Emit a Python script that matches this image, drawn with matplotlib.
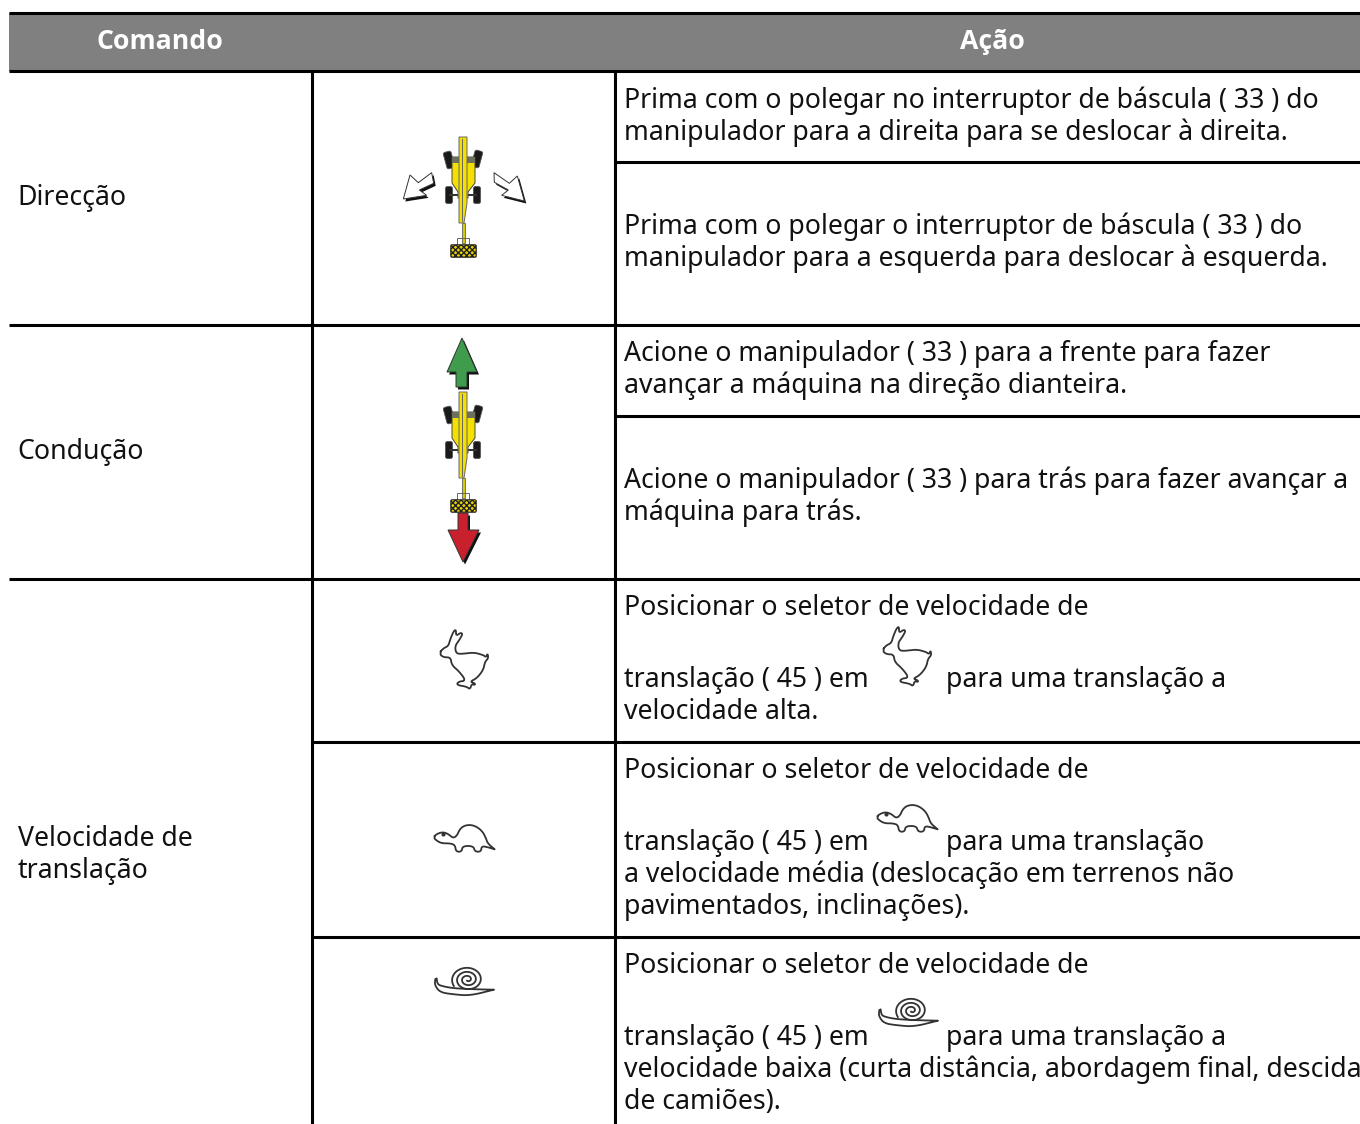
import numpy as np
import matplotlib
matplotlib.use('Agg')
import matplotlib.pyplot as plt
from matplotlib.patches import Polygon, Rectangle, FancyBboxPatch

plt.rcParams['font.family'] = ['Noto Sans', 'DejaVu Sans']

# table contents
headers = ['Comando', 'Ação']
commands = [('Direcção', 205), ('Condução', 459), ('Velocidade de', 846), ('translação', 878)]
actions = [
    ('Prima com o polegar no interruptor de báscula ( 33 ) do', 108),
    ('manipulador para a direita para se deslocar à direita.', 140),
    ('Prima com o polegar o interruptor de báscula ( 33 ) do', 234),
    ('manipulador para a esquerda para deslocar à esquerda.', 266),
    ('Acione o manipulador ( 33 ) para a frente para fazer', 361),
    ('avançar a máquina na direção dianteira.', 393),
    ('Acione o manipulador ( 33 ) para trás para fazer avançar a', 488),
    ('máquina para trás.', 520),
    ('Posicionar o seletor de velocidade de', 615),
    ('translação ( 45 ) em', 687),
    ('velocidade alta.', 719),
    ('Posicionar o seletor de velocidade de', 778),
    ('translação ( 45 ) em', 850),
    ('a velocidade média (deslocação em terrenos não', 882),
    ('pavimentados, inclinações).', 914),
    ('Posicionar o seletor de velocidade de', 973),
    ('translação ( 45 ) em', 1045),
    ('velocidade baixa (curta distância, abordagem final, descida', 1077),
    ('de camiões).', 1109),
]
after_icon = [('para uma translação a', 687), ('para uma translação', 850), ('para uma translação a', 1045)]

# rules: y, x start
h_rules = [(162, 615), (416, 615), (325, 9), (579, 9), (742, 312), (937, 312)]
v_rules = [311.7, 614.5]

# icon outlines (3x zoom pixels)
rabbit = [(57, 100), (70, 85), (85, 78), (90, 60), (100, 35), (108, 28), (108, 48), (122, 38), (128, 42),
          (118, 60), (105, 78), (108, 100), (125, 102), (160, 97), (190, 105), (198, 112), (203, 100),
          (205, 115), (195, 125), (190, 150), (170, 175), (150, 185), (165, 190), (165, 195), (155, 192),
          (150, 208), (140, 200), (110, 195), (115, 185), (138, 182), (118, 155), (95, 135), (92, 112),
          (70, 112), (57, 100)]
turtle = [(40, 82), (50, 72), (68, 66), (85, 72), (100, 85), (112, 75), (118, 60), (130, 48), (150, 44),
          (170, 50), (188, 65), (198, 85), (203, 100), (224, 118), (224, 118), (205, 112), (185, 108), (183, 125),
          (165, 125), (160, 108), (128, 108), (125, 125), (108, 125), (105, 105), (90, 100), (65, 100),
          (50, 92), (40, 82)]
snail_foot = [(46, 72), (46, 72), (44, 90), (60, 112), (100, 118), (150, 122), (222, 104), (222, 104), (170, 103),
              (100, 100), (60, 92), (52, 85), (50, 70), (50, 70)]
arrow_left = [(70, 237), (90, 165), (115, 188), (155, 158), (161, 190), (118, 210), (140, 226)]
arrow_right = [(433, 243), (412, 168), (388, 190), (342, 158), (343, 187), (385, 210), (365, 226)]
green_arrow = [(462, 338), (477, 372), (467, 372), (467, 387), (456, 387), (456, 372), (447, 372)]
red_arrow = [(458, 513), (468, 513), (468, 530), (479, 530), (463, 562), (448, 530), (458, 530)]

W, H = 1360, 1124
fig = plt.figure(figsize=(W / 100, H / 100), dpi=100)
ax = fig.add_axes([0, 0, 1, 1])
ax.set_xlim(0, W)
ax.set_ylim(H, 0)
ax.axis('off')

FS = 19.2
INK = '#333333'


def smooth(pts, n=2):
    p = np.array(pts, float)
    for _ in range(n):
        q = 0.75 * p[:-1] + 0.25 * p[1:]
        r = 0.25 * p[:-1] + 0.75 * p[1:]
        p = np.empty((len(q) * 2, 2))
        p[0::2] = q
        p[1::2] = r
    return p


def outline(pts, x, y, closed=True):
    # x, y is where the zoom origin of the icon lands
    p = smooth(pts) / 3 + (x, y)
    if closed:
        p = np.vstack([p, p[:1]])
    ax.plot(p[:, 0], p[:, 1], color=INK, lw=1.3, solid_capstyle='round', zorder=4)


def draw_rabbit(x, y):
    outline(rabbit, x, y)


def draw_turtle(x, y):
    outline(turtle, x, y)
    ax.plot(x + 68 / 3, y + 73 / 3, 'o', color=INK, ms=2, zorder=4)


def draw_snail(x, y):
    outline(snail_foot, x, y, closed=False)
    t = np.linspace(0, 2.9 * 2 * np.pi, 300)
    s = np.linspace(1, 0.1, 300)
    a = np.radians(150) + t
    ax.plot(x + 47.7 + 16 * s * np.cos(a), y + 24.5 + 13 * s * np.sin(a), color=INK, lw=1.3, zorder=4)


def tire(x, y, w, h, ang=0):
    rot = matplotlib.transforms.Affine2D().rotate_deg_around(x, y, ang) + ax.transData
    ax.add_patch(FancyBboxPatch((x - w / 2 + 2, y - h / 2 + 2), w - 4, h - 4, boxstyle='round,pad=2', fc='#1a1a1a',
                                ec='#555555', lw=0.6, zorder=3, transform=rot))


def draw_machine(cx, top):
    # cx is the boom centre, top the tip of the boom
    tire(cx - 14, top + 23, 8, 17, -15)
    tire(cx + 14, top + 22, 8, 17, 15)
    tire(cx - 14, top + 58, 7, 17)
    tire(cx + 14, top + 58, 7, 17)
    body = [(cx - 11, top + 20), (cx + 12, top + 20), (cx + 12, top + 46), (cx + 5, top + 55), (cx + 5, top + 61),
            (cx - 5, top + 61), (cx - 5, top + 55), (cx - 11, top + 46)]
    ax.add_patch(Polygon(body, fc='#f4e000', ec='#444444', lw=0.7, zorder=4))
    ax.add_patch(Rectangle((cx - 11, top + 20), 23, 6, fc='#6f6f5e', ec='none', zorder=5))
    ax.add_patch(Rectangle((cx - 14, top + 57), 28, 2, fc='#333333', ec='none', zorder=3))
    ax.add_patch(Polygon([(cx - 4, top), (cx + 4, top), (cx + 4, top + 66), (cx + 1, top + 86), (cx - 4, top + 86)],
                         fc='#f4e000', ec='#666666', lw=0.7, zorder=6))
    ax.plot([cx - 1, cx - 1], [top + 2, top + 84], color='#666666', lw=0.7, zorder=7)
    ax.add_patch(Rectangle((cx - 1.5, top + 86), 3.5, 20, fc='#d8c800', ec='#666666', lw=0.6, zorder=5))
    ax.add_patch(Rectangle((cx - 6, top + 101), 12, 8, fc='none', ec='#666666', lw=0.7, zorder=5))
    ax.add_patch(FancyBboxPatch((cx - 11, top + 109), 23, 10, boxstyle='round,pad=1.2', fc='#e8d400', ec='#222222',
                                lw=0.8, hatch='xxxxxx', zorder=6))


def shadow_arrow(pts, fc):
    p = np.array(pts, float)
    ax.add_patch(Polygon(p + (2, 2.5), fc='#111111', ec='none', zorder=4))
    ax.add_patch(Polygon(p, fc=fc, ec='#333333', lw=0.7, zorder=5))


# header band
ax.add_patch(Rectangle((9, 13), W - 9, 58, fc='#808080', ec='none', zorder=1))
ax.plot([9, W], [13, 13], color='black', lw=2.2, zorder=3, solid_capstyle='butt')
ax.plot([9, W], [71, 71], color='black', lw=2.2, zorder=3, solid_capstyle='butt')
ax.text(160, 49, headers[0], color='white', fontsize=FS, family=['Open Sans', 'DejaVu Sans'], fontweight='bold',
        ha='center', va='baseline')
ax.text(992, 49, headers[1], color='white', fontsize=FS, family=['Open Sans', 'DejaVu Sans'], fontweight='bold',
        ha='center', va='baseline')

for y, x0 in h_rules:
    ax.plot([x0, W], [y, y], color='black', lw=2.2, solid_capstyle='butt', zorder=3)
for x in v_rules:
    ax.plot([x, x], [71, H], color='black', lw=2.2, solid_capstyle='butt', zorder=3)

for txt, y in commands:
    ax.text(17.5, y, txt, fontsize=FS, color='#111111', va='baseline')
for txt, y in actions:
    ax.text(624, y, txt, fontsize=FS, color='#111111', va='baseline')
for txt, y in after_icon:
    ax.text(946, y, txt, fontsize=FS, color='#111111', va='baseline')

# icons
draw_machine(463, 137)
draw_machine(463, 392)
ax_left = [(a / 3 + 380, b / 3 + 120) for a, b in arrow_left]
ax_right = [(a / 3 + 380, b / 3 + 120) for a, b in arrow_right]
shadow_arrow(ax_left, 'white')
shadow_arrow(ax_right, 'white')
shadow_arrow(green_arrow, '#3f9c4c')
shadow_arrow(red_arrow, '#c9202d')

draw_rabbit(420, 620)
draw_rabbit(863, 617)
draw_turtle(420, 810)
draw_turtle(863, 790)
draw_snail(420, 955)
draw_snail(864, 986)

fig.savefig('out.png', dpi=100, facecolor='white')
